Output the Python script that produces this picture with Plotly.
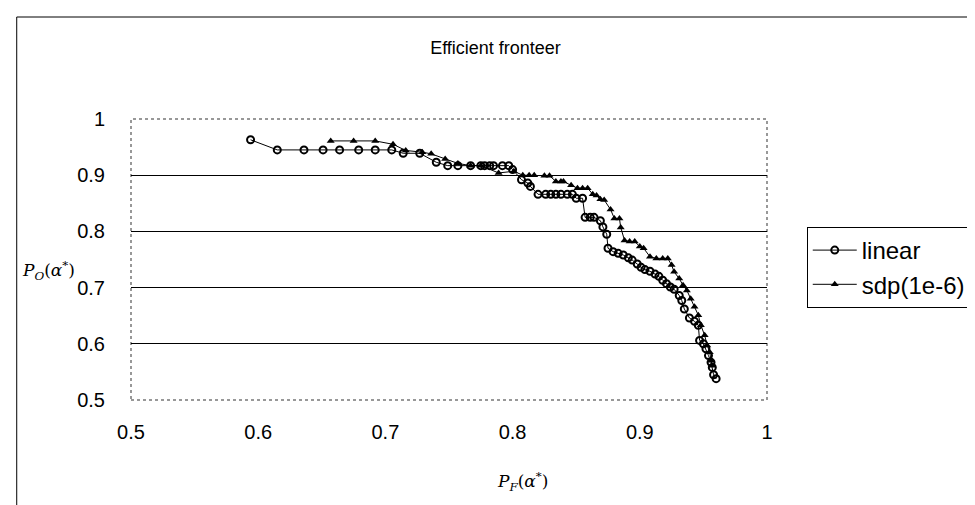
import plotly.graph_objects as go

# ---- data ----
linear_x = [0.594, 0.615, 0.636, 0.651, 0.664, 0.679, 0.692, 0.705, 0.714, 0.727,
            0.740, 0.749, 0.757, 0.767, 0.775, 0.778, 0.782, 0.785, 0.792, 0.797,
            0.800, 0.807, 0.812, 0.814, 0.820, 0.826, 0.830, 0.834, 0.838, 0.843,
            0.847, 0.850, 0.855, 0.857, 0.861, 0.864, 0.869, 0.871, 0.874, 0.875,
            0.879, 0.883, 0.887, 0.891, 0.894, 0.898, 0.901, 0.904, 0.908, 0.912,
            0.915, 0.918, 0.921, 0.924, 0.927, 0.931, 0.933, 0.935, 0.939, 0.943,
            0.946, 0.947, 0.950, 0.952, 0.954, 0.956, 0.957, 0.958, 0.960]
linear_y = [0.963, 0.945, 0.945, 0.945, 0.945, 0.945, 0.945, 0.945, 0.939, 0.939,
            0.923, 0.917, 0.917, 0.917, 0.917, 0.917, 0.917, 0.917, 0.917, 0.917,
            0.910, 0.892, 0.886, 0.880, 0.866, 0.866, 0.866, 0.866, 0.866, 0.866,
            0.866, 0.859, 0.859, 0.825, 0.825, 0.825, 0.819, 0.808, 0.795, 0.770,
            0.764, 0.761, 0.758, 0.753, 0.749, 0.742, 0.736, 0.732, 0.729, 0.724,
            0.720, 0.713, 0.707, 0.701, 0.697, 0.686, 0.677, 0.662, 0.646, 0.640,
            0.633, 0.606, 0.600, 0.591, 0.579, 0.567, 0.558, 0.545, 0.538]

sdp_x = [0.657, 0.675, 0.692, 0.706, 0.716, 0.729, 0.736, 0.747, 0.757, 0.767,
         0.775, 0.789, 0.801, 0.808, 0.813, 0.817, 0.825, 0.829, 0.834, 0.838,
         0.840, 0.846, 0.851, 0.855, 0.859, 0.863, 0.866, 0.869, 0.872, 0.877,
         0.880, 0.884, 0.885, 0.888, 0.892, 0.896, 0.900, 0.903, 0.908, 0.913,
         0.918, 0.922, 0.925, 0.927, 0.931, 0.934, 0.937, 0.940, 0.943, 0.946,
         0.948, 0.951, 0.953, 0.955, 0.956, 0.957]
sdp_y = [0.961, 0.961, 0.961, 0.955, 0.944, 0.941, 0.938, 0.929, 0.921, 0.917,
         0.917, 0.904, 0.907, 0.900, 0.900, 0.900, 0.899, 0.899, 0.889, 0.889,
         0.889, 0.882, 0.877, 0.877, 0.877, 0.866, 0.864, 0.857, 0.856, 0.839,
         0.823, 0.823, 0.807, 0.784, 0.782, 0.782, 0.773, 0.770, 0.755, 0.752,
         0.752, 0.752, 0.740, 0.728, 0.716, 0.704, 0.695, 0.680, 0.666, 0.651,
         0.633, 0.615, 0.597, 0.585, 0.570, 0.561]

tick_vals = [0.5, 0.6, 0.7, 0.8, 0.9, 1.0]
tick_text = ["0.5", "0.6", "0.7", "0.8", "0.9", "1"]

FONT = "Liberation Sans, Arial, sans-serif"
MATH = "DejaVu Serif, serif"

fig = go.Figure()
fig.add_trace(go.Scatter(
    x=linear_x, y=linear_y, mode="lines+markers", name="linear",
    line=dict(color="black", width=1),
    marker=dict(symbol="circle-open", size=7, color="black", line=dict(width=2)),
))
fig.add_trace(go.Scatter(
    x=sdp_x, y=sdp_y, mode="lines+markers", name="sdp(1e-6)",
    line=dict(color="black", width=1),
    marker=dict(symbol="triangle-up", size=7, color="black"),
))

W, H = 975, 505
L, R, T, B = 123, 212, 111, 113
pw, ph = W - L - R, H - T - B


def px_x(p):
    return (p - L) / pw


def px_y(p):
    return (H - B - p) / ph


fig.update_layout(
    width=W, height=H,
    margin=dict(l=L, r=R, t=T, b=B),
    paper_bgcolor="white", plot_bgcolor="white",
    font=dict(family=FONT, color="black", size=20),
    title=dict(text="Efficient fronteer", x=0.5, xref="container",
               xanchor="center", yref="container", y=1 - 40 / H,
               yanchor="middle", font=dict(size=18, family=FONT)),
    showlegend=True,
    legend=dict(x=px_x(803), y=px_y(219), xanchor="left", yanchor="top",
                bordercolor="black", borderwidth=1, bgcolor="white",
                font=dict(size=24, family=FONT), tracegroupgap=0,
                itemwidth=44),
    xaxis=dict(range=[0.5, 1.0], tickvals=tick_vals, ticktext=tick_text,
               showgrid=False, zeroline=False, showline=False,
               ticks="", tickfont=dict(size=20), ticklabelstandoff=18),
    yaxis=dict(range=[0.5, 1.0], tickvals=tick_vals, ticktext=tick_text,
               showgrid=True, gridcolor="black", gridwidth=1, zeroline=False,
               showline=False, ticks="", tickfont=dict(size=20),
               ticklabelstandoff=25),
)

# plot area border (dotted gray, Excel-like)
fig.add_shape(type="rect", xref="paper", yref="paper", x0=0, x1=1, y0=0, y1=1,
              line=dict(color="#777777", width=1.5, dash="dot"), layer="below")
# outer chart border
fig.add_shape(type="rect", xref="paper", yref="paper",
              x0=px_x(8), x1=px_x(974), y0=px_y(504), y1=px_y(9),
              line=dict(color="black", width=1))
# y-axis label (horizontal, left of tick labels)
fig.add_annotation(text="<i>P</i><sub><i>O</i></sub>(<i>α</i><sup>*</sup>)",
                   xref="paper", yref="paper", x=px_x(11), y=px_y(262),
                   xanchor="left", yanchor="middle",
                   showarrow=False, font=dict(family=MATH, size=17))
# x-axis label
fig.add_annotation(text="<i>P</i><sub><i>F</i></sub>(<i>α</i><sup>*</sup>)",
                   xref="paper", yref="paper", x=px_x(517), y=px_y(473),
                   xanchor="center", yanchor="middle",
                   showarrow=False, font=dict(family=MATH, size=17))

fig.write_html("out.html")
